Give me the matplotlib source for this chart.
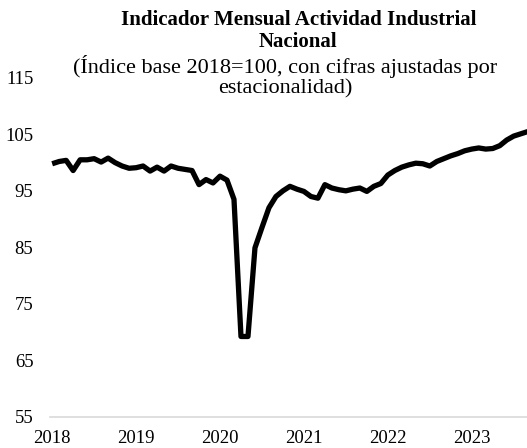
import numpy as np
import matplotlib.pyplot as plt

plt.rcParams['font.family'] = ['Liberation Serif', 'DejaVu Serif']

# monthly index, Jan 2018 onward
valores = [99.8, 100.2, 100.4, 98.6, 100.5, 100.5, 100.7, 100.1, 100.8, 100.0, 99.4, 99.0,
           99.1, 99.4, 98.5, 99.2, 98.5, 99.4, 99.0, 98.8, 98.6, 96.1, 97.0, 96.4,
           97.6, 96.9, 93.5, 69.2, 69.2, 84.9, 88.5, 92.0, 94.0, 95.0, 95.8, 95.3,
           94.9, 94.0, 93.7, 96.1, 95.5, 95.2, 95.0, 95.3, 95.5, 94.9, 95.8, 96.3,
           97.8, 98.6, 99.2, 99.6, 99.9, 99.8, 99.4, 100.2, 100.7, 101.2, 101.6, 102.1,
           102.4, 102.6, 102.4, 102.5, 103.0, 104.0, 104.7, 105.1, 105.5]
anios = ['2018', '2019', '2020', '2021', '2022', '2023']
y_ticks = [55, 65, 75, 85, 95, 105, 115]

meses = np.arange(len(valores))

fig = plt.figure(figsize=(5.27, 4.48), dpi=100)
ax = fig.add_axes([0.095, 0.07, 0.905, 0.756])

ax.plot(meses, valores, color='black', lw=3.8, solid_joinstyle='round', solid_capstyle='butt')

ax.set_ylim(55, 115)
ax.set_xlim(-0.3, 67.9)
ax.set_yticks(y_ticks)
ax.set_yticklabels([str(v) for v in y_ticks], fontsize=13.5)
ax.set_xticks(np.arange(0, 12 * len(anios), 12))
ax.set_xticklabels(anios, fontsize=13.5)
ax.tick_params(length=0)
ax.tick_params(axis='x', pad=9.5)
ax.tick_params(axis='y', pad=12)

for s in ['top', 'right', 'left']:
    ax.spines[s].set_visible(False)
ax.spines['bottom'].set_color('#d9d9d9')
ax.spines['bottom'].set_linewidth(1.2)

fig.text(0.566, 0.931, 'Indicador Mensual Actividad Industrial\nNacional',
         ha='center', va='center', fontsize=15, fontweight='bold', linespacing=1.1)
fig.text(0.541, 0.829, '(Índice base 2018=100, con cifras ajustadas por\nestacionalidad)',
         ha='center', va='center', fontsize=16, linespacing=1.1)

fig.savefig('out.png', dpi=100)
